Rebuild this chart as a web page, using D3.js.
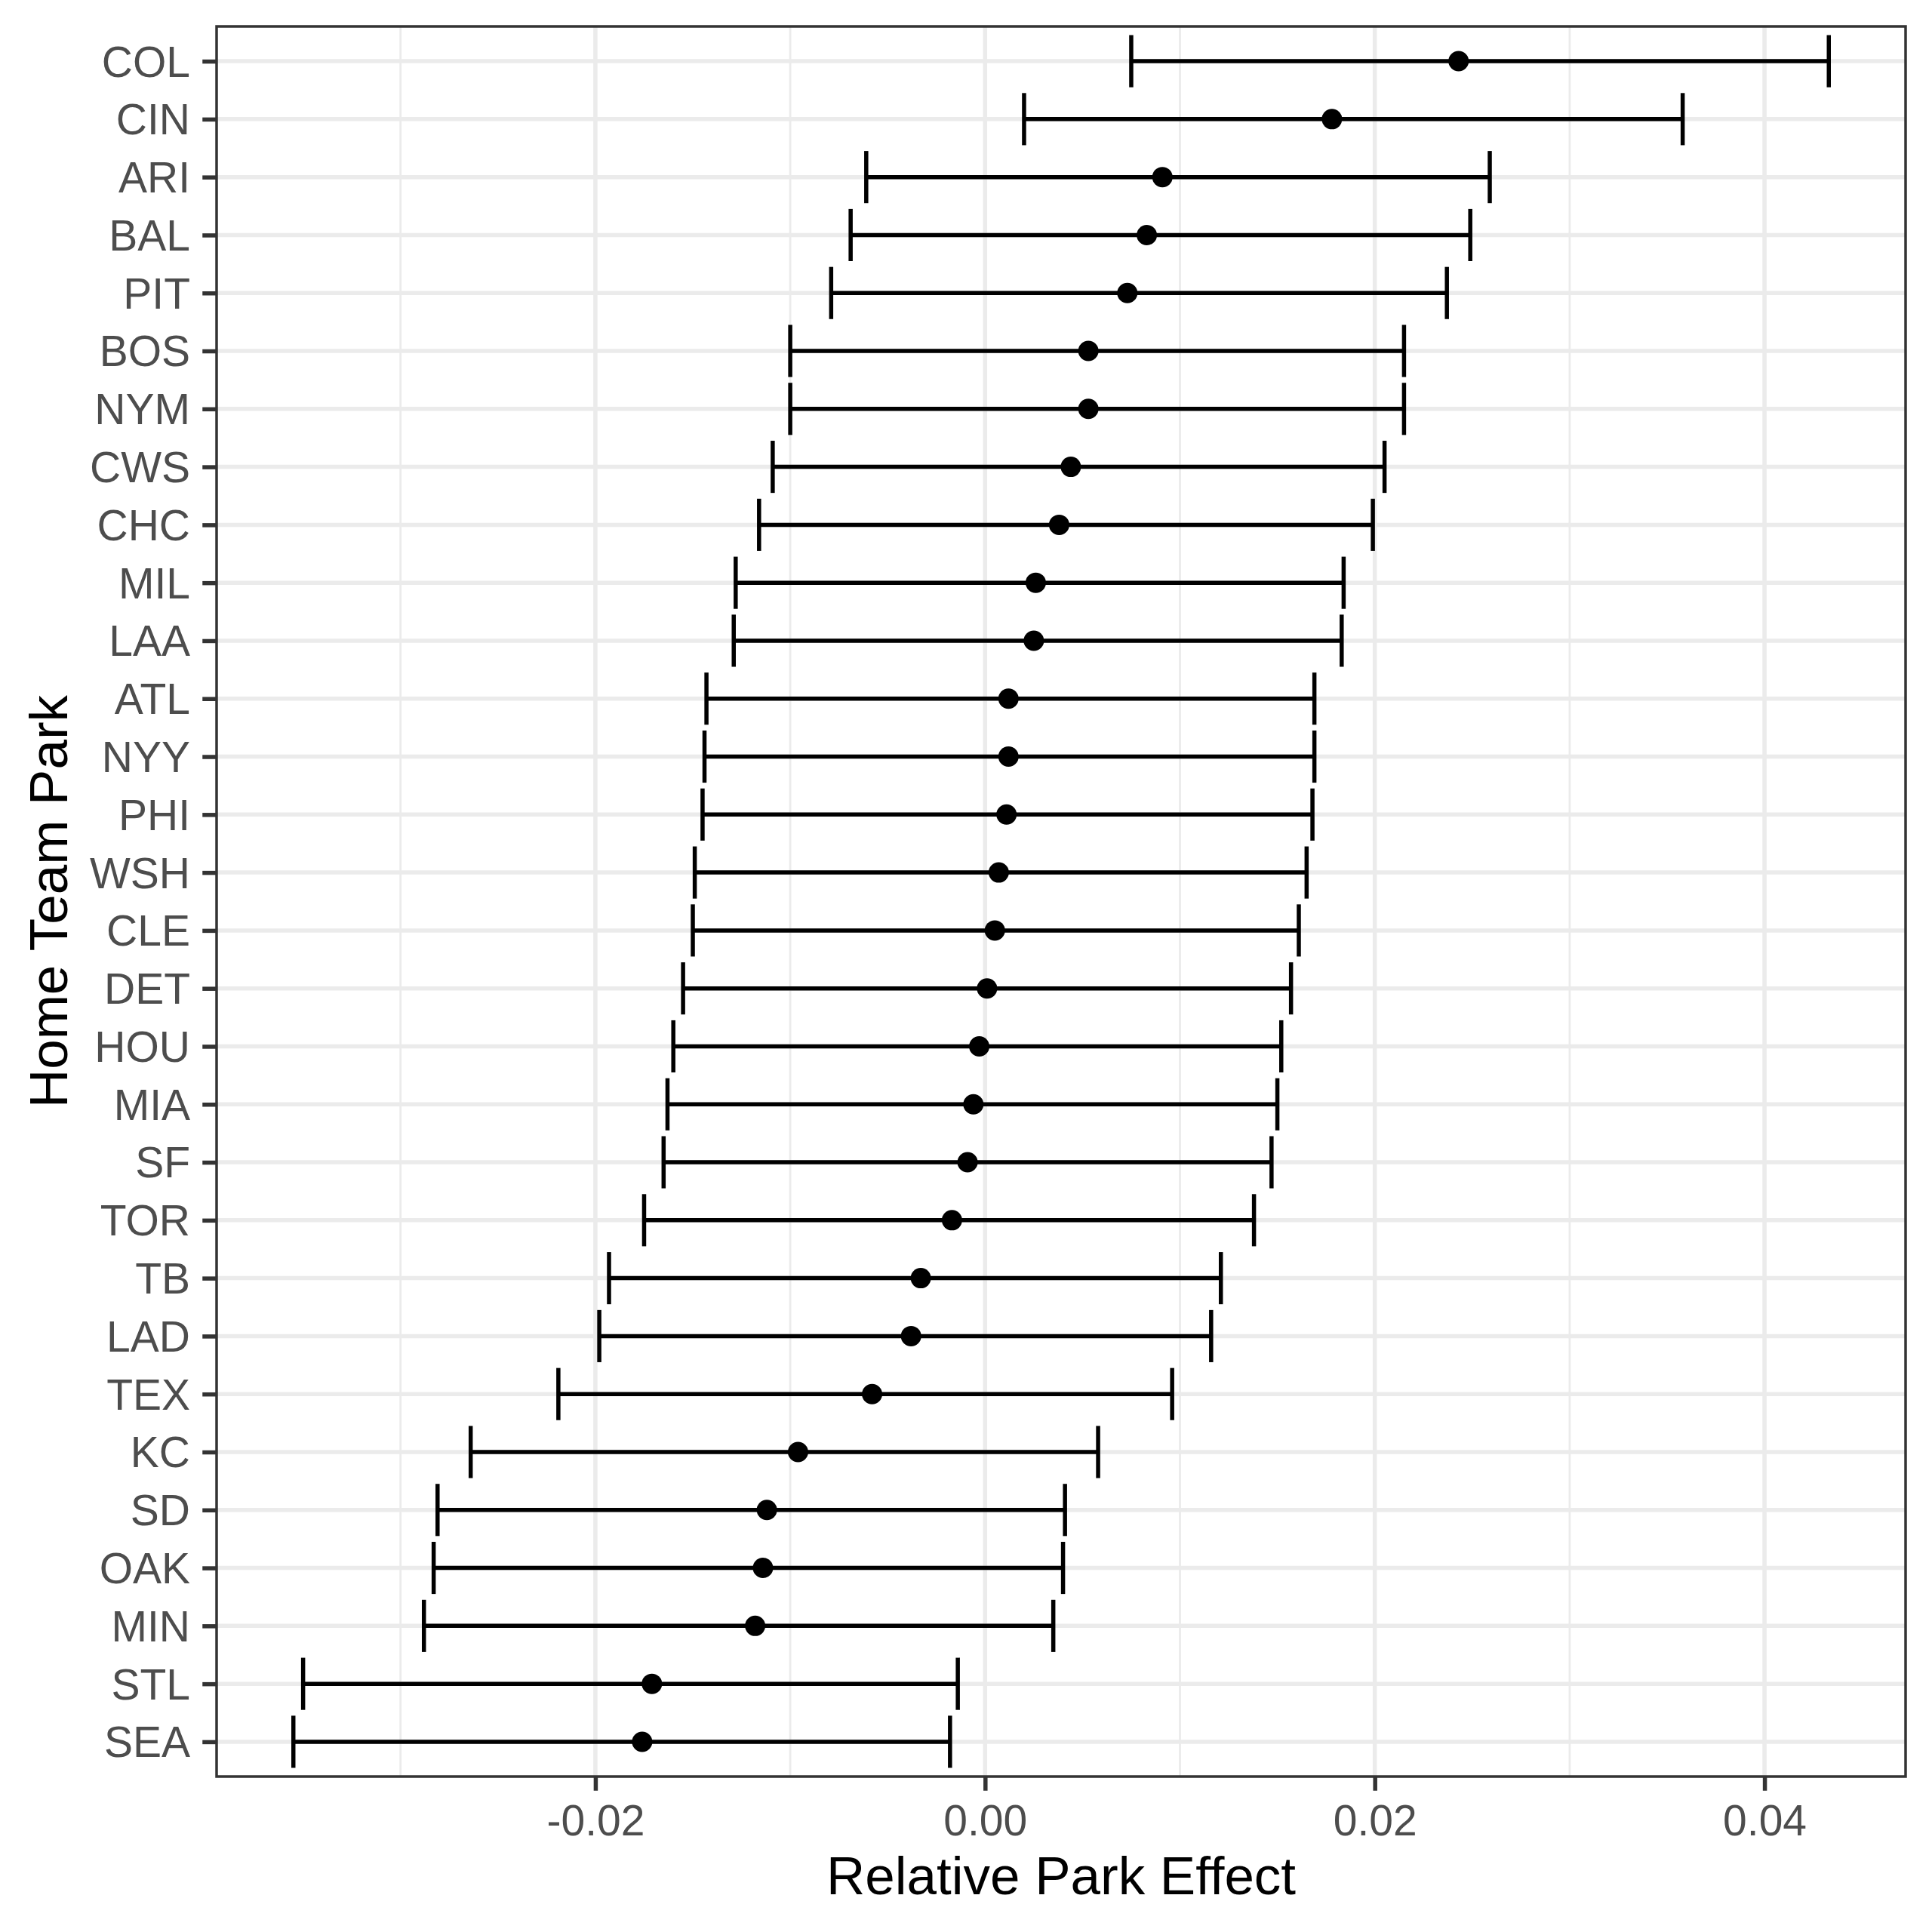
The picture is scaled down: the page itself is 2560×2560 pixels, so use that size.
<!DOCTYPE html>
<html>
<head>
<meta charset="utf-8">
<script src="https://cdn.jsdelivr.net/npm/d3@7"></script>
<style>
html, body { margin: 0; padding: 0; background: #ffffff; }
svg { display: block; }
</style>
</head>
<body>
<script>
const teams = ["COL","CIN","ARI","BAL","PIT","BOS","NYM","CWS","CHC","MIL","LAA","ATL","NYY","PHI","WSH","CLE","DET","HOU","MIA","SF","TOR","TB","LAD","TEX","KC","SD","OAK","MIN","STL","SEA"];
const estimate = [0.0243,0.0178,0.0091,0.0083,0.0073,0.0053,0.0053,0.0044,0.0038,0.0026,0.0025,0.0012,0.0012,0.0011,0.0007,0.0005,0.0001,-0.0003,-0.0006,-0.0009,-0.0017,-0.0033,-0.0038,-0.0058,-0.0096,-0.0112,-0.0114,-0.0118,-0.0171,-0.0176];
const lower = [0.0075,0.0020,-0.0061,-0.0069,-0.0079,-0.0100,-0.0100,-0.0109,-0.0116,-0.0128,-0.0129,-0.0143,-0.0144,-0.0145,-0.0149,-0.0150,-0.0155,-0.0160,-0.0163,-0.0165,-0.0175,-0.0193,-0.0198,-0.0219,-0.0264,-0.0281,-0.0283,-0.0288,-0.0350,-0.0355];
const upper = [0.0433,0.0358,0.0259,0.0249,0.0237,0.0215,0.0215,0.0205,0.0199,0.0184,0.0183,0.0169,0.0169,0.0168,0.0165,0.0161,0.0157,0.0152,0.0150,0.0147,0.0138,0.0121,0.0116,0.0096,0.0058,0.0041,0.0040,0.0035,-0.0014,-0.0018];
const xMajorTicks = [-0.02, 0.00, 0.02, 0.04];
const xMinorTicks = [-0.03, -0.01, 0.01, 0.03];
const xTitle = "Relative Park Effect";
const yTitle = "Home Team Park";

const W = 2560, H = 2560;
const panel = { left: 287, right: 2525, top: 35, bottom: 2354 };
const FONT = "'Liberation Sans', Arial, Helvetica, sans-serif";

const data = teams.map((t, i) => ({ team: t, est: estimate[i], lo: lower[i], hi: upper[i] }));

const lo = d3.min(lower), hi = d3.max(upper);
const pad = (hi - lo) * 0.05;
const x = d3.scaleLinear().domain([lo - pad, hi + pad]).range([panel.left, panel.right]);
const y = d3.scalePoint().domain(teams).range([panel.top, panel.bottom]).padding(0.6);
const capHalf = y.step() * 0.45;

const svg = d3.select("body").append("svg")
  .attr("width", W).attr("height", H)
  .attr("viewBox", `0 0 ${W} ${H}`);

svg.append("rect").attr("width", W).attr("height", H).attr("fill", "#ffffff");

// panel background
svg.append("rect")
  .attr("x", panel.left).attr("y", panel.top)
  .attr("width", panel.right - panel.left).attr("height", panel.bottom - panel.top)
  .attr("fill", "#ffffff");

const grid = svg.append("g");
// minor vertical gridlines
grid.selectAll("line.minor").data(xMinorTicks).join("line")
  .attr("class", "minor")
  .attr("x1", d => x(d)).attr("x2", d => x(d))
  .attr("y1", panel.top).attr("y2", panel.bottom)
  .attr("stroke", "#EBEBEB").attr("stroke-width", 2.8);
// major vertical gridlines
grid.selectAll("line.majorx").data(xMajorTicks).join("line")
  .attr("class", "majorx")
  .attr("x1", d => x(d)).attr("x2", d => x(d))
  .attr("y1", panel.top).attr("y2", panel.bottom)
  .attr("stroke", "#EBEBEB").attr("stroke-width", 5.5);
// major horizontal gridlines
grid.selectAll("line.majory").data(teams).join("line")
  .attr("class", "majory")
  .attr("x1", panel.left).attr("x2", panel.right)
  .attr("y1", d => y(d)).attr("y2", d => y(d))
  .attr("stroke", "#EBEBEB").attr("stroke-width", 5.5);

// error bars
const eb = svg.append("g").attr("stroke", "#000000").attr("stroke-width", 5.5).attr("fill", "none");
eb.selectAll("line.h").data(data).join("line")
  .attr("class", "h")
  .attr("x1", d => x(d.lo)).attr("x2", d => x(d.hi))
  .attr("y1", d => y(d.team)).attr("y2", d => y(d.team));
eb.selectAll("line.cl").data(data).join("line")
  .attr("class", "cl")
  .attr("x1", d => x(d.lo)).attr("x2", d => x(d.lo))
  .attr("y1", d => y(d.team) - capHalf).attr("y2", d => y(d.team) + capHalf);
eb.selectAll("line.cu").data(data).join("line")
  .attr("class", "cu")
  .attr("x1", d => x(d.hi)).attr("x2", d => x(d.hi))
  .attr("y1", d => y(d.team) - capHalf).attr("y2", d => y(d.team) + capHalf);

// points
svg.append("g").selectAll("circle").data(data).join("circle")
  .attr("cx", d => x(d.est)).attr("cy", d => y(d.team))
  .attr("r", 13.5).attr("fill", "#000000");

// panel border
svg.append("rect")
  .attr("x", panel.left).attr("y", panel.top)
  .attr("width", panel.right - panel.left).attr("height", panel.bottom - panel.top)
  .attr("fill", "none").attr("stroke", "#333333").attr("stroke-width", 3.5);

// x axis
const xAxis = d3.axisBottom(x).tickValues(xMajorTicks).tickFormat(d3.format(".2f"))
  .tickSizeInner(18.75).tickSizeOuter(0).tickPadding(18);
const gx = svg.append("g").attr("transform", `translate(0,${panel.bottom})`).call(xAxis);
gx.select(".domain").remove();
gx.selectAll(".tick line").attr("stroke", "#333333").attr("stroke-width", 5.5);
gx.selectAll(".tick text")
  .attr("fill", "#4D4D4D").attr("font-family", FONT).attr("font-size", 57)
  .attr("dy", null).attr("y", 78)
  .text(d => d3.format(".2f")(d).replace("\u2212", "-"));

// y axis
const yAxis = d3.axisLeft(y).tickSizeInner(18.75).tickSizeOuter(0).tickPadding(17);
const gy = svg.append("g").attr("transform", `translate(${panel.left},0)`).call(yAxis);
gy.select(".domain").remove();
gy.selectAll(".tick line").attr("stroke", "#333333").attr("stroke-width", 5.5);
gy.selectAll(".tick text")
  .attr("fill", "#4D4D4D").attr("font-family", FONT).attr("font-size", 57)
  .attr("dy", "0.35em").attr("x", -35);

// axis titles
svg.append("text")
  .attr("x", (panel.left + panel.right) / 2).attr("y", 2510)
  .attr("text-anchor", "middle")
  .attr("font-family", FONT).attr("font-size", 71).attr("fill", "#000000")
  .text(xTitle);

svg.append("text")
  .attr("transform", `translate(89,${(panel.top + panel.bottom) / 2}) rotate(-90)`)
  .attr("text-anchor", "middle")
  .attr("font-family", FONT).attr("font-size", 71).attr("fill", "#000000")
  .text(yTitle);
</script>
</body>
</html>
